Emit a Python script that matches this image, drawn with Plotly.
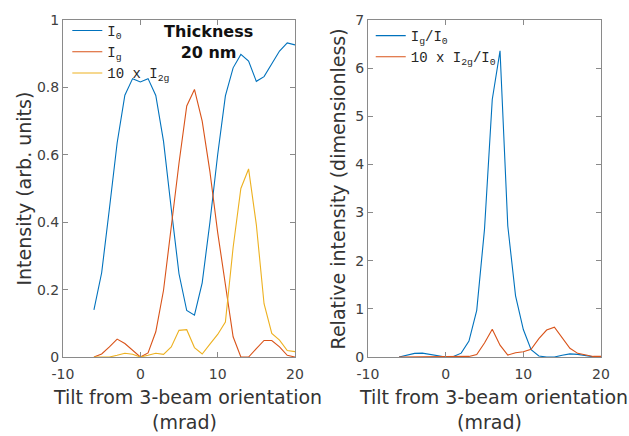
import plotly.graph_objects as go

# ---- data ----
tilt = [-6, -5, -4, -3, -2, -1, 0, 1, 2, 3, 4, 5, 6, 7, 8, 9, 10, 11, 12, 13, 14, 15, 16, 17, 18, 19, 20]

I0 = [0.14, 0.25, 0.44, 0.635, 0.777, 0.826, 0.816, 0.826, 0.776, 0.64, 0.44, 0.247, 0.138, 0.124, 0.22,
      0.40, 0.60, 0.775, 0.858, 0.898, 0.878, 0.818, 0.832, 0.87, 0.908, 0.932, 0.926]
Ig = [0.0, 0.009, 0.03, 0.053, 0.04, 0.019, 0.0, 0.012, 0.075, 0.198, 0.39, 0.575, 0.745, 0.794, 0.70,
      0.55, 0.37, 0.21, 0.06, 0.0, 0.0, 0.025, 0.049, 0.049, 0.03, 0.005, 0.0]
I2g10 = [0.0, 0.0, 0.0, 0.005, 0.011, 0.008, 0.0, 0.005, 0.011, 0.008, 0.03, 0.079, 0.081, 0.028, 0.009,
         0.038, 0.067, 0.104, 0.325, 0.50, 0.558, 0.393, 0.158, 0.07, 0.05, 0.019, 0.016]

ratio_g = [0.0, 0.035, 0.075, 0.08, 0.05, 0.015, 0.0, 0.01, 0.08, 0.33, 0.97, 2.65, 5.35, 6.36, 2.72,
           1.27, 0.57, 0.15, 0.02, 0.0, 0.0, 0.035, 0.065, 0.055, 0.025, 0.005, 0.0]
ratio_2g = [0.0, 0.0, 0.0, 0.008, 0.01, 0.01, 0.0, 0.005, 0.012, 0.012, 0.05, 0.29, 0.575, 0.245, 0.04,
            0.09, 0.11, 0.16, 0.38, 0.56, 0.62, 0.40, 0.18, 0.076, 0.045, 0.012, 0.012]

x_ticks = [-10, 0, 10, 20]
x_labels = ["-10", "0", "10", "20"]
y1_ticks = [0, 0.2, 0.4, 0.6, 0.8, 1]
y1_labels = ["0", "0.2", "0.4", "0.6", "0.8", "1"]
y2_ticks = [0, 1, 2, 3, 4, 5, 6, 7]

BLUE = "#0072BD"
RED = "#D95319"
YEL = "#EDB120"
FONT = "DejaVu Sans"
LFONT = "Liberation Mono"

fig = go.Figure()
fig.add_trace(go.Scatter(x=tilt, y=I0, mode="lines", name="I<sub>0</sub>",
                         line=dict(color=BLUE, width=1.1), xaxis="x", yaxis="y", legend="legend"))
fig.add_trace(go.Scatter(x=tilt, y=Ig, mode="lines", name="I<sub>g</sub>",
                         line=dict(color=RED, width=1.1), xaxis="x", yaxis="y", legend="legend"))
fig.add_trace(go.Scatter(x=tilt, y=I2g10, mode="lines", name="10 x I<sub>2g</sub>",
                         line=dict(color=YEL, width=1.1), xaxis="x", yaxis="y", legend="legend"))
fig.add_trace(go.Scatter(x=tilt, y=ratio_g, mode="lines", name="I<sub>g</sub>/I<sub>0</sub>",
                         line=dict(color=BLUE, width=1.1), xaxis="x2", yaxis="y2", legend="legend2"))
fig.add_trace(go.Scatter(x=tilt, y=ratio_2g, mode="lines", name="10 x I<sub>2g</sub>/I<sub>0</sub>",
                         line=dict(color=RED, width=1.1), xaxis="x2", yaxis="y2", legend="legend2"))

axis_common = dict(showgrid=False, zeroline=False, showline=True, linecolor="#8a8a8a", linewidth=1,
                   mirror="ticks", ticks="inside", ticklen=5, tickcolor="#8a8a8a",
                   tickfont=dict(family=FONT, size=14, color="#404040"))

fig.update_layout(
    width=629, height=436,
    margin=dict(l=63, r=28, t=17, b=79),
    paper_bgcolor="white", plot_bgcolor="white",
    xaxis=dict(domain=[0, 0.4312], range=[-10, 20], tickvals=x_ticks, ticktext=x_labels, anchor="y",
               ticklabelstandoff=4, **axis_common),
    yaxis=dict(domain=[0, 1], range=[0, 1], tickvals=y1_ticks, ticktext=y1_labels, anchor="x", **axis_common),
    xaxis2=dict(domain=[0.5669, 1], range=[-10, 20], tickvals=x_ticks, ticktext=x_labels, anchor="y2",
                ticklabelstandoff=4, **axis_common),
    yaxis2=dict(domain=[0, 1], range=[0, 7], tickvals=y2_ticks, anchor="x2", **axis_common),
    legend=dict(x=0.008, y=1.015, xanchor="left", yanchor="top", bgcolor="rgba(0,0,0,0)",
                font=dict(family=LFONT, size=14, color="#262626"), tracegroupgap=0, itemwidth=30),
    legend2=dict(x=0.572, y=1.0, xanchor="left", yanchor="top", bgcolor="rgba(0,0,0,0)",
                 font=dict(family=LFONT, size=14, color="#262626"), tracegroupgap=0, itemwidth=30),
    showlegend=True,
)

ann_font = dict(family=FONT, size=19, color="#333333")
annotations = [
    dict(text="<b>Thickness<br>20 nm</b>", x=0.271, y=0.934, xref="paper", yref="paper",
         xanchor="center", yanchor="middle",
         showarrow=False, font=dict(family=FONT, size=16, color="#111111")),
    dict(text="Tilt from 3-beam orientation", x=0.231, y=-0.118, xref="paper", yref="paper",
         xanchor="center", yanchor="middle", showarrow=False, font=ann_font),
    dict(text="(mrad)", x=0.225, y=-0.193, xref="paper", yref="paper",
         xanchor="center", yanchor="middle", showarrow=False, font=ann_font),
    dict(text="Tilt from 3-beam orientation", x=0.801, y=-0.118, xref="paper", yref="paper",
         xanchor="center", yanchor="middle", showarrow=False, font=ann_font),
    dict(text="(mrad)", x=0.792, y=-0.193, xref="paper", yref="paper",
         xanchor="center", yanchor="middle", showarrow=False, font=ann_font),
    dict(text="Intensity (arb. units)", x=-0.0743, y=0.5, xref="paper", yref="paper",
         xanchor="center", yanchor="middle", showarrow=False, textangle=-90, font=ann_font),
    dict(text="Relative intensity (dimensionless)", x=0.511, y=0.5, xref="paper", yref="paper",
         xanchor="center", yanchor="middle", showarrow=False, textangle=-90, font=ann_font),
]
fig.update_layout(annotations=annotations)

fig.write_html("out.html")
